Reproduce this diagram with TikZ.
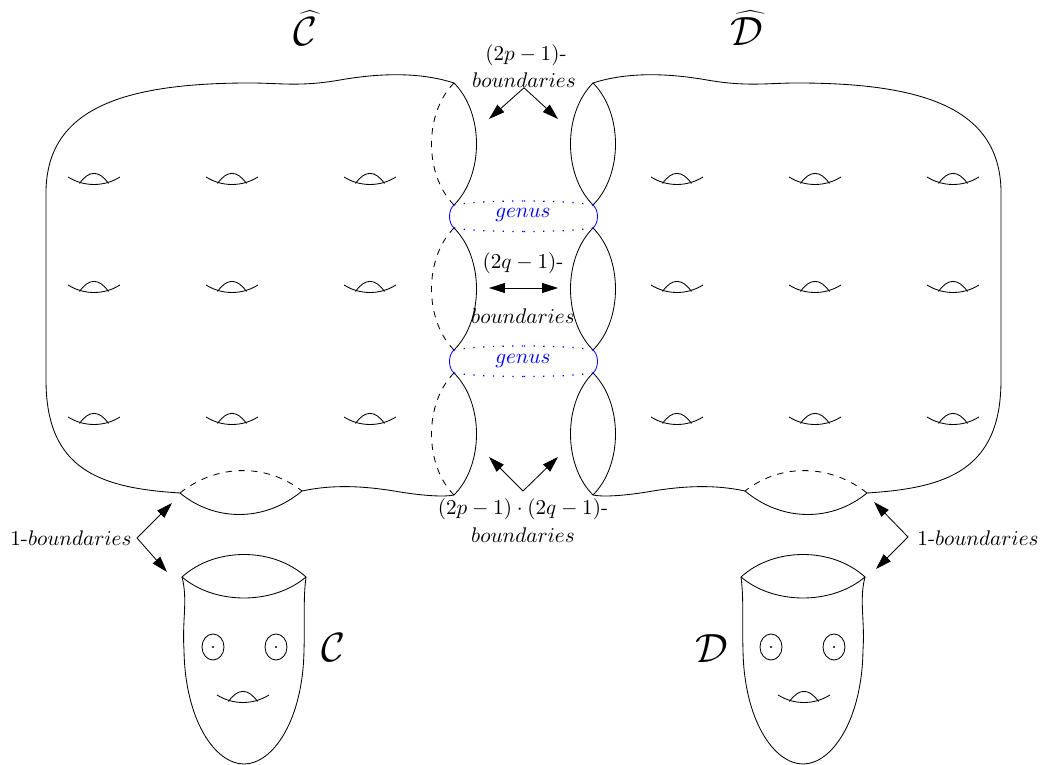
\documentclass[tikz,border=0pt]{standalone}
\usepackage{graphicx}
\usetikzlibrary{arrows.meta}
\tikzset{
  handle/.pic={
    \draw (-26,0) .. controls (-10,10) and (10,10) .. (26,0);
    \draw (-14.5,6.5) .. controls (-5,-7) and (5,-7) .. (14.5,6.5);
  },
  arr/.style={-{Triangle[length=7.5pt,width=4.7pt]}},
  darr/.style={{Triangle[length=7.5pt,width=4.7pt]}-{Triangle[length=7.5pt,width=4.7pt]}},
  ring/.style={blue,line width=0.6pt,dash pattern=on 0.6pt off 4pt},
}
\newcommand{\biglabel}[1]{\scalebox{0.93}{\huge$#1$}}
\begin{document}
\begin{tikzpicture}[x=0.4725pt,y=-0.4725pt,every node/.style={inner sep=0pt}]
\pgfmathsetmacro{\m}{1047}
\useasboundingbox (0,0) rectangle (1042,765);
% the two surfaces, the right one mirrored
\foreach \o/\s/\st in {0/1/dashed,\m/-1/solid}{
\begin{scope}[shift={(\o,0)},xscale=\s]
\draw (454,83) .. controls (420,72) and (380,73) .. (340,80) .. controls (300,87) and (280,83) .. (250,83)
  .. controls (120,83) and (48,110) .. (46,190) -- (46,380) .. controls (46,470) and (100,488) .. (180,493);
\draw (302,491) .. controls (330,485) and (360,485) .. (400,492) .. controls (425,496) and (445,497) .. (454,495);
\draw (180,493) .. controls (215,522) and (265,522) .. (302,491);
\draw[dashed] (180,493) .. controls (215,465) and (265,462) .. (302,491);
\foreach \a/\b in {83/205,228/350,373/495}{
  \draw (454,\a) .. controls (484,\a+30) and (484,\b-30) .. (454,\b);
  \draw[\st] (454,\a) .. controls (424,\a+30) and (424,\b-30) .. (454,\b);
}
\foreach \a/\b in {205/228,350/373}{
  \draw[blue] (454,\a) .. controls (448,\a+5) and (448,\b-5) .. (454,\b);
  \draw[ring] (454,\a) .. controls (475,\a-3.5) and (500,\a-4) .. (523.5,\a-4);
  \draw[ring] (454,\b) .. controls (475,\b+3) and (500,\b+3.5) .. (523.5,\b+3.5);
}
\foreach \y in {177,285,417}
  \foreach \x in {94,232,370}
    \pic at (\x,\y) {handle};
% face
\draw (182,577) .. controls (215,547) and (273,547) .. (306,577);
\draw (182,577) .. controls (215,605) and (273,605) .. (306,577);
\draw (182,577) .. controls (188,600) and (182,620) .. (184,650) .. controls (185,720) and (215,764) .. (244,764)
  .. controls (273,764) and (303,720) .. (304,650) .. controls (305,620) and (303,600) .. (306,577);
\foreach \x in {213,276}{
  \draw (\x,647) ellipse (11 and 13);
  \fill (\x,647) circle (1.2);
}
\pic at (243,695) {handle};
\end{scope}
}
\node (Chat) at (305,28) {\biglabel{\widehat{\mathcal{C}}}};
\node (Dhat) at (747,28) {\biglabel{\widehat{\mathcal{D}}}};
\node (C) at (333,648) {\biglabel{\mathcal{C}}};
\node (D) at (712,649) {\biglabel{\mathcal{D}}};
\node[blue] (g1) at (523,215) {$genus$};
\node[blue] (g2) at (523,361) {$genus$};
% top
\node (t1) at (526,55) {$(2p-1)$-};
\node (t2) at (524,80) {$boundaries$};
\coordinate (tl) at (489,119);
\coordinate (tr) at (558,119);
\draw[arr] (t2.south) -- (tl);
\draw[arr] (t2.south) -- (tr);
% middle
\node (m1) at (523,263) {$(2q-1)$-};
\node (m2) at (523,316) {$boundaries$};
\coordinate (ml) at (489,288);
\coordinate (mr) at (558,288);
\draw[darr] (ml) -- (mr);
% bottom
\node (b1) at (523,509) {$(2p-1)\cdot(2q-1)$-};
\node (b2) at (523,535) {$boundaries$};
\coordinate (ba) at (523,491);
\coordinate (bl) at (489,457);
\coordinate (br) at (558,457);
\draw[arr] (ba) -- (bl);
\draw[arr] (ba) -- (br);
% 1-boundaries
\node[anchor=east] (l1) at (132,538) {1-$boundaries$};
\node[anchor=west] (r1) at (917,538) {1-$boundaries$};
\coordinate (la) at (137,538);
\coordinate (lu) at (172,503);
\coordinate (ld) at (167,572);
\coordinate (ra) at (908,537);
\coordinate (ru) at (874,502);
\coordinate (rd) at (876,569);
\draw[arr] (la) -- (lu);
\draw[arr] (la) -- (ld);
\draw[arr] (ra) -- (ru);
\draw[arr] (ra) -- (rd);
\end{tikzpicture}
\end{document}
